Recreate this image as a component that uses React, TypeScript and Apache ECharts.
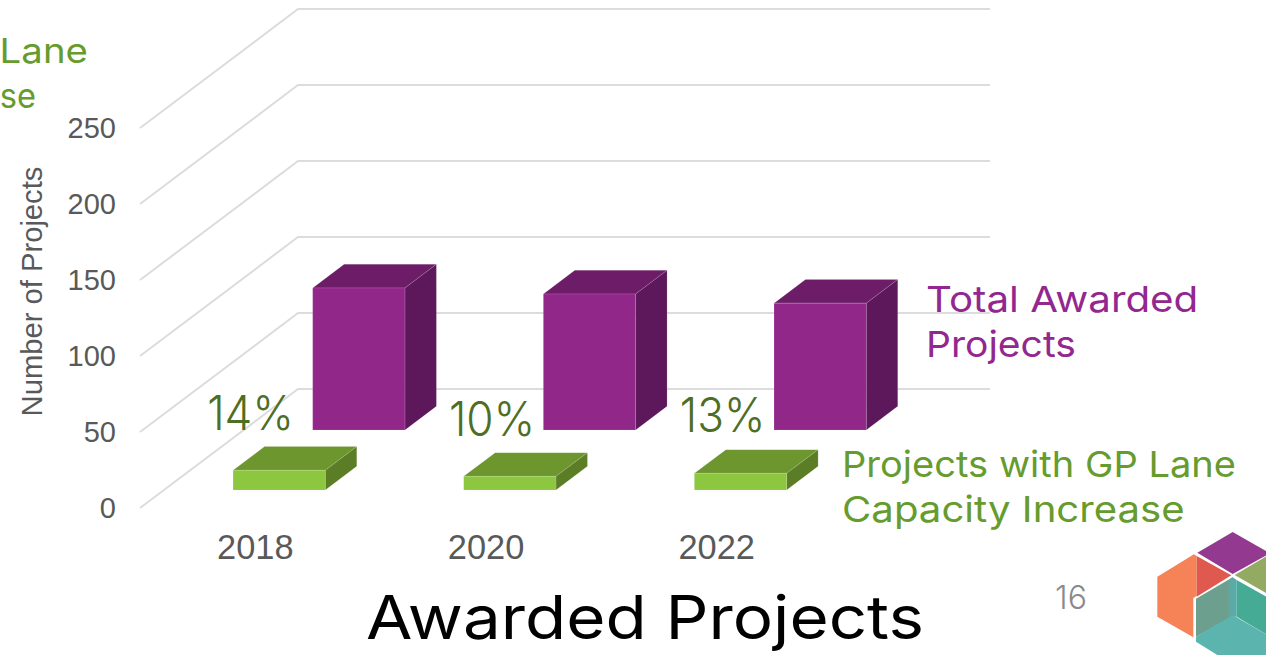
import React, { useEffect, useRef } from "react";
import * as echarts from "echarts";

const categories = ["2018", "2020", "2022"];
const totalAwarded = [93.5, 89.5, 83.5];
const gpLaneIncrease = [13, 9, 11];
const shareLabels = ["14%", "10%", "13%"];
const yTicks = [0, 50, 100, 150, 200, 250];

const titleText = "Awarded Projects";
const yAxisTitle = "Number of Projects";
const pageNumber = "16";
const totalLegend = ["Total Awarded", "Projects"];
const gpLegend = ["Projects with GP Lane", "Capacity Increase"];
const gpLegendCut = ["Lane", "se"];

const DEPTH_X = 158;
const DEPTH_Y = -119;
const DISPLAY_FONT = "Inter";
const ARIAL = "'Liberation Sans', Arial, sans-serif";

function barItem(front: number, depth: number, faces: { front: string; top: string; side: string }) {
  return (_params: any, api: any) => {
    const cat = api.value(0);
    const val = api.value(1);
    const band = api.size([1, 0])[0];
    const w = band * 0.4;
    const base = api.coord([cat, 0]);
    const top = api.coord([cat, val]);
    const project = (x: number, y: number, d: number) => [x + DEPTH_X * d, y + DEPTH_Y * d];
    const l = base[0] - w / 2;
    const r = base[0] + w / 2;
    const d0 = front;
    const d1 = front + depth;
    const edge = "rgba(255,255,255,0.12)";
    return {
      type: "group",
      children: [
        {
          type: "polygon",
          shape: { points: [project(l, top[1], d0), project(r, top[1], d0), project(r, top[1], d1), project(l, top[1], d1)] },
          style: { fill: faces.top, stroke: edge, lineWidth: 1 },
        },
        {
          type: "polygon",
          shape: { points: [project(r, top[1], d0), project(r, top[1], d1), project(r, base[1], d1), project(r, base[1], d0)] },
          style: { fill: faces.side, stroke: edge, lineWidth: 1 },
        },
        {
          type: "polygon",
          shape: { points: [project(l, top[1], d0), project(r, top[1], d0), project(r, base[1], d0), project(l, base[1], d0)] },
          style: { fill: faces.front, stroke: edge, lineWidth: 1 },
        },
      ],
    };
  };
}

function gridItem(params: any, api: any) {
  const y = api.coord([0, api.value(0)])[1];
  const left = params.coordSys.x;
  const right = params.coordSys.x + params.coordSys.width;
  return {
    type: "polyline",
    shape: {
      points: [
        [left, y],
        [left + DEPTH_X, y + DEPTH_Y],
        [right + DEPTH_X, y + DEPTH_Y],
      ],
    },
    style: { stroke: "#dcdcdc", lineWidth: 2, fill: "none" },
  };
}

function text(str: string, x: number, y: number, size: number, fill: string, align = "left", scaleX = 1, extra: any = {}) {
  return {
    type: "text",
    x,
    y,
    scaleX,
    z: 20,
    style: { text: str, fontSize: size, fontFamily: DISPLAY_FONT, fill, align, verticalAlign: "middle", ...extra },
  };
}

function logoPoly(pts: number[][], fill: string, opacity = 1) {
  return {
    type: "polygon",
    z: 30,
    shape: { points: pts.map(([x, y]) => [1040 + x / 3, 520 + y / 3]) },
    style: { fill, opacity },
  };
}

const logo = [
  logoPoly([[472, 98], [578, 36], [690, 100], [578, 162]], "#93398f"),
  logoPoly([[352, 170], [462, 103], [470, 108], [470, 228], [460, 234], [460, 352], [352, 290]], "#f58357"),
  logoPoly([[470, 108], [574, 166], [470, 230]], "#e0594f"),
  logoPoly([[584, 165], [690, 102], [690, 226]], "#93aa62"),
  logoPoly([[468, 236], [578, 172], [578, 290], [468, 350]], "#6d9f8f"),
  logoPoly([[568, 178], [578, 172], [590, 180], [590, 290], [568, 290]], "#5aaba8"),
  logoPoly([[590, 180], [690, 236], [690, 350], [590, 290]], "#45ab95"),
  logoPoly([[468, 350], [578, 285], [690, 350], [690, 410], [540, 410], [468, 365]], "#5bb5ae"),
];

export default function App() {
  const ref = useRef<HTMLDivElement>(null);
  useEffect(() => {
    document.body.style.margin = "0";
    document.body.style.overflow = "hidden";
    const chart = echarts.init(ref.current!, undefined, { renderer: "svg" });
    chart.setOption({
      animation: false,
      backgroundColor: "#ffffff",
      grid: { left: 140, top: 128, width: 692, height: 380 },
      xAxis: {
        type: "category",
        data: categories,
        axisLine: { show: false },
        axisTick: { show: false },
        axisLabel: { color: "#595959", fontSize: 34.4, fontFamily: ARIAL, margin: 22 },
      },
      yAxis: {
        type: "value",
        min: 0,
        max: 250,
        interval: 50,
        axisLine: { show: false },
        axisTick: { show: false },
        splitLine: { show: false },
        axisLabel: { color: "#595959", fontSize: 29, fontFamily: ARIAL, margin: 24 },
      },
      series: [
        {
          type: "custom",
          name: "grid",
          z: 1,
          silent: true,
          data: yTicks.map((t) => [t]),
          encode: { y: 0 },
          renderItem: gridItem,
        },
        {
          type: "custom",
          name: "Total Awarded Projects",
          z: 3,
          data: totalAwarded.map((v, i) => [i, v]),
          encode: { x: 0, y: 1 },
          renderItem: barItem(0.655, 0.199, { front: "#92278a", top: "#6d1d68", side: "#5c185a" }),
        },
        {
          type: "custom",
          name: "Projects with GP Lane Capacity Increase",
          z: 4,
          data: gpLaneIncrease.map((v, i) => [i, v]),
          encode: { x: 0, y: 1 },
          renderItem: barItem(0.151, 0.199, { front: "#8dc63f", top: "#6d962f", side: "#5b7d26" }),
        },
      ],
      graphic: [
        text(gpLegendCut[0], 88, 51, 34, "#669b2e", "right", 1.13),
        text(gpLegendCut[1], 36, 96, 34, "#669b2e", "right", 0.96),
        text(totalLegend[0], 926, 299, 36, "#92278f", "left", 1.12),
        text(totalLegend[1], 926, 344, 36, "#92278f", "left", 1.085),
        text(gpLegend[0], 842, 464, 36, "#669b2e", "left", 1.058),
        text(gpLegend[1], 842, 509, 36, "#669b2e", "left", 1.116),
        text(shareLabels[0], 250.5, 412, 48, "#4e6e23", "center", 0.92, { fontWeight: 300 }),
        text(shareLabels[1], 492, 418, 48, "#4e6e23", "center", 0.92, { fontWeight: 300 }),
        text(shareLabels[2], 722.5, 414, 48, "#4e6e23", "center", 0.92, { fontWeight: 300 }),
        text(titleText, 645, 617, 60, "#000000", "center", 1.122),
        text(pageNumber, 1071, 597, 32, "#8a8a8a", "center", 1, { fontWeight: 300 }),
        {
          type: "text",
          x: 32,
          y: 291.5,
          rotation: Math.PI / 2,
          z: 20,
          style: { text: yAxisTitle, fontSize: 29.2, fontFamily: ARIAL, fill: "#595959", align: "center", verticalAlign: "middle" },
        },
        ...logo,
      ],
    });
    return () => chart.dispose();
  }, []);
  return <div ref={ref} style={{ position: "absolute", left: 0, top: 0, width: 1266, height: 655 }} />;
}
